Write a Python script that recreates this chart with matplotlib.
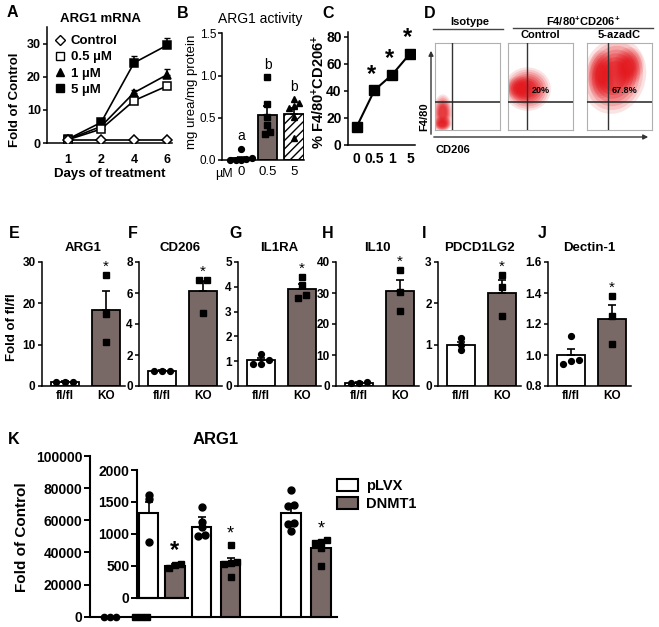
import numpy as np
import matplotlib
matplotlib.use('Agg')
import matplotlib.pyplot as plt
from matplotlib.patches import Ellipse, Patch, FancyArrowPatch
from matplotlib.lines import Line2D

W, H = 659, 627
plt.rcParams['font.family'] = ['Liberation Sans', 'DejaVu Sans']
plt.rcParams['font.weight'] = 'bold'
plt.rcParams['axes.linewidth'] = 1.1
plt.rcParams['hatch.linewidth'] = 1.0
plt.rcParams['mathtext.fontset'] = 'custom'
plt.rcParams['mathtext.rm'] = 'Liberation Sans:bold'
plt.rcParams['mathtext.bf'] = 'Liberation Sans:bold'
plt.rcParams['mathtext.it'] = 'Liberation Sans:bold'

GREY = '#786866'
RED = '#e3161c'

# ---------------- data ----------------
# A: ARG1 mRNA time course
a_days = ['1', '2', '4', '6']
a_control = [1.0, 1.0, 1.0, 1.0]
a_05 = [1.0, 4.2, 12.8, 17.2]
a_05_err = [0.2, 0.4, 0.9, 1.0]
a_1 = [1.1, 5.0, 15.2, 20.6]
a_1_err = [0.2, 0.5, 0.8, 1.8]
a_5 = [1.2, 6.2, 24.2, 29.5]
a_5_err = [0.2, 0.6, 2.0, 2.2]

# B: ARG1 activity
b_doses = ['0', '0.5', '5']
b_means = [0.02, 0.53, 0.55]
b_sems = [0.02, 0.11, 0.06]
b_pts_0 = [0.13, 0.02, 0.01, 0.0, 0.0, 0.0]
b_pts_05 = [0.98, 0.66, 0.51, 0.41, 0.33, 0.31]
b_pts_5 = [0.72, 0.67, 0.64, 0.61, 0.51, 0.26]

# C: % F4/80+CD206+
c_doses = ['0', '0.5', '1', '5']
c_vals = [13.5, 40.5, 52.0, 67.5]

# D: flow gates / clouds (axis units), percentages
d_titles = ['', 'Control', '5-azadC']
d_gate_x = [0.26, 0.29, 0.32]
d_gate_y = [0.325, 0.325, 0.325]
d_pct = ['', '20%', '67.8%']
# (cx, cy, w, h, angle) per cloud
d_clouds = [
    [(0.11, 0.07, 0.30, 0.17, 0), (0.12, 0.20, 0.30, 0.42, 0)],
    [(0.19, 0.48, 0.46, 0.28, 0), (0.30, 0.47, 0.72, 0.50, 0)],
    [(0.63, 0.72, 0.50, 0.44, 35), (0.22, 0.64, 0.42, 0.55, 0),
     (0.42, 0.62, 1.00, 0.85, 20)],
]

# E-J: fl/fl vs KO
ej_genes = ['ARG1', 'CD206', 'IL1RA', 'IL10', 'PDCD1LG2', 'Dectin-1']
ej_letters = ['E', 'F', 'G', 'H', 'I', 'J']
ej_groups = ['fl/fl', 'KO']
flfl_mean = [1.0, 1.0, 1.03, 1.0, 1.0, 1.0]
flfl_sem = [0.2, 0.05, 0.08, 0.3, 0.07, 0.04]
ko_mean = [18.3, 6.1, 3.92, 30.5, 2.26, 1.23]
ko_sem = [4.6, 0.7, 0.19, 3.8, 0.3, 0.09]
flfl_pts = [[1.0, 1.0, 1.0], [1.0, 1.0, 1.0], [1.3, 1.04, 0.9, 0.9],
            [1.2, 0.9, 0.9], [1.16, 1.0, 0.88], [1.12, 0.97, 0.94, 0.96]]
ko_pts = [[26.8, 17.5, 10.6], [6.85, 6.85, 4.7], [4.38, 4.07, 3.67, 3.54],
          [37.3, 30.3, 24.1], [2.68, 2.4, 1.69], [1.38, 1.25, 1.07]]
ej_ylim = [(0, 30), (0, 8), (0, 5), (0, 40), (0, 3), (0.8, 1.6)]
ej_yticks = [[0, 10, 20, 30], [0, 2, 4, 6, 8], [0, 1, 2, 3, 4, 5],
             [0, 10, 20, 30, 40], [0, 1, 2, 3], [0.8, 1.0, 1.2, 1.4, 1.6]]

# K: ARG1 pLVX vs DNMT1
k_main_plvx, k_main_plvx_pts = 1.0, [1.2, 0.9, 0.9]
k_main_dnmt, k_main_dnmt_pts = 1.0, [1.0, 1.0, 1.0]
k_plvx = [1330, 1113, 1323]
k_plvx_sem = [175, 157, 130]
k_dnmt = [500, 555, 774]
k_dnmt_sem = [20, 63, 65]
k_plvx_pts = [[1610, 1550, 870], [1420, 1190, 1110, 960, 980],
              [1680, 1450, 1440, 1170, 1150, 1050]]
k_dnmt_pts = [[520, 505, 470], [820, 560, 540, 520, 330],
              [900, 880, 850, 780, 500]]

# ---------------- helpers ----------------
fig = plt.figure(figsize=(W / 100, H / 100), dpi=100)


def px_axes(x0, y0, x1, y1):
    return fig.add_axes([x0 / W, 1 - y1 / H, (x1 - x0) / W, (y1 - y0) / H])


def ftext(x, y, s, **kw):
    kw.setdefault('ha', 'center')
    kw.setdefault('va', 'center')
    return fig.text(x / W, 1 - y / H, s, **kw)


def style(ax, fs=8.5, weight='bold'):
    for s in ['top', 'right']:
        ax.spines[s].set_visible(False)
    ax.tick_params(width=1.1, length=3, labelsize=fs, pad=1.5)
    for lab in ax.get_xticklabels() + ax.get_yticklabels():
        lab.set_fontweight(weight)


def swarm(vals, tol, step):
    # spread points with nearly equal values sideways
    vals = np.asarray(vals, float)
    order = np.argsort(vals)
    offs = np.zeros(len(vals))
    cluster = [order[0]]
    clusters = []
    for i in order[1:]:
        if vals[i] - vals[cluster[-1]] < tol:
            cluster.append(i)
        else:
            clusters.append(cluster)
            cluster = [i]
    clusters.append(cluster)
    for c in clusters:
        k = len(c)
        for j, idx in enumerate(c):
            offs[idx] = (j - (k - 1) / 2) * step
    return offs


def up_err(ax, x, m, e, **kw):
    ax.errorbar(x, m, yerr=[[0], [e]], fmt='none', ecolor='k', elinewidth=1.2,
                capsize=3, capthick=1.2, zorder=3, **kw)


# ---------------- A ----------------
ax = px_axes(47, 27, 172, 143)
xa = np.arange(len(a_days))
series = [(a_5, a_5_err, 's', 'k'), (a_1, a_1_err, '^', 'k'),
          (a_05, a_05_err, 's', 'w'), (a_control, None, 'D', 'w')]
for vals, err, mk, fc in series:
    ax.plot(xa, vals, color='k', lw=1.2, zorder=2)
    if err is not None:
        ax.errorbar(xa, vals, yerr=[np.zeros(4), err], fmt='none', ecolor='k',
                    elinewidth=1.1, capsize=2.5, zorder=2)
    ax.plot(xa, vals, ls='none', marker=mk, mfc=fc, mec='k', mew=1.1,
            ms=6 if mk != 'D' else 5.5, zorder=4)
ax.set_xlim(-0.64, 3.15)
ax.set_ylim(0, 35)
ax.set_yticks([0, 10, 20, 30])
ax.set_xticks(xa, a_days)
style(ax, 9)
ax.tick_params(axis='x', length=0, pad=8)
handles = [Line2D([], [], ls='none', marker='D', mfc='w', mec='k', ms=5.5),
           Line2D([], [], ls='none', marker='s', mfc='w', mec='k', ms=6),
           Line2D([], [], ls='none', marker='^', mfc='k', mec='k', ms=6),
           Line2D([], [], ls='none', marker='s', mfc='k', mec='k', ms=6)]
ax.legend(handles, ['Control', '0.5 µM', '1 µM', '5 µM'], loc='upper left',
          bbox_to_anchor=(0.0, 1.0), frameon=False, fontsize=9.5,
          handlelength=0.8, handletextpad=0.4, labelspacing=0.3,
          borderpad=0.3, borderaxespad=0.3)
ftext(12.5, 12.5, 'A', fontsize=11.5)
ftext(100, 19, 'ARG1 mRNA', fontsize=9.5)
ftext(15, 100, 'Fold of Control', fontsize=9.5, rotation=90)
ftext(110, 174, 'Days of treatment', fontsize=9.5)

# ---------------- B ----------------
ax = px_axes(222, 33.3, 304, 160)
xb = np.arange(len(b_doses))
bw = 0.75
ax.bar(0, b_means[0], bw, color='w', edgecolor='k', lw=1.3, zorder=2)
ax.bar(1, b_means[1], bw, color=GREY, edgecolor='k', lw=1.3, zorder=2)
ax.bar(2, b_means[2], bw, color='w', edgecolor='k', lw=1.3, hatch='////', zorder=2)
for i in range(3):
    up_err(ax, i, b_means[i], b_sems[i])
for i, (pts, mk) in enumerate([(b_pts_0, 'o'), (b_pts_05, 's'), (b_pts_5, '^')]):
    off = swarm(pts, 0.04, 0.2)
    ax.plot(i + off, pts, ls='none', marker=mk, color='k', ms=4.2, zorder=5,
            clip_on=False)
for i, lab in enumerate(['a', 'b', 'b']):
    top = max(b_means[i] + b_sems[i], max([b_pts_0, b_pts_05, b_pts_5][i]))
    ax.annotate(lab, (i, top), xytext=(0, 4), textcoords='offset points',
                ha='center', va='bottom', fontsize=10, fontweight='normal')
ax.set_xlim(-0.72, 2.38)
ax.set_ylim(0, 1.5)
ax.set_yticks([0, 0.5, 1.0, 1.5], ['0.0', '0.5', '1.0', '1.5'])
ax.set_xticks(xb, b_doses)
style(ax, 8.5, 'normal')
ax.tick_params(axis='y', pad=1)
ax.tick_params(axis='x', length=0, pad=4, labelsize=9.5)
ftext(224, 173.5, 'µM', fontsize=9, fontweight='normal')
ftext(183, 13, 'B', fontsize=11.5)
ftext(260, 19, 'ARG1 activity', fontsize=10, fontweight='normal')
ftext(192, 92, 'mg urea/mg protein', fontsize=9.5, fontweight='normal',
      rotation=90)

# ---------------- C ----------------
ax = px_axes(348, 31.7, 415, 145)
xc = np.arange(len(c_doses))
ax.plot(xc, c_vals, color='k', lw=1.5, marker='s', ms=6.5, mfc='k', zorder=3)
for i in range(1, 4):
    ax.annotate('*', (i, c_vals[i]), xytext=(-2, 3), textcoords='offset points',
                ha='center', va='bottom', fontsize=17)
ax.set_xlim(-0.49, 3.28)
ax.set_ylim(0, 83.7)
ax.set_yticks([0, 20, 40, 60, 80])
ax.set_xticks(xc, c_doses)
style(ax, 10)
ax.tick_params(axis='x', length=0, pad=5)
ftext(328, 13, 'C', fontsize=11.5)
ftext(319, 92, '% F4/80$^{+}$CD206$^{+}$', fontsize=10.5, rotation=90)

# ---------------- D ----------------
boxes = [(435, 43, 500, 130), (508, 43, 573, 130), (587, 43, 652, 130)]
layers = [(1.0, 0.12), (0.9, 0.14), (0.8, 0.18), (0.7, 0.22),
          (0.6, 0.26), (0.5, 0.3), (0.4, 0.35)]
for j, (x0, y0, x1, y1) in enumerate(boxes):
    ax = px_axes(x0, y0, x1, y1)
    ax.set_xlim(0, 1)
    ax.set_ylim(0, 1)
    ax.set_xticks([])
    ax.set_yticks([])
    for s in ax.spines.values():
        s.set_color('#b0b0b0')
        s.set_linewidth(0.8)
    for (cx, cy, w, h, ang) in d_clouds[j]:
        for sc, al in layers:
            ax.add_patch(Ellipse((cx, cy), w * sc, h * sc, angle=ang,
                                 facecolor=RED, edgecolor='none', alpha=al,
                                 zorder=1))
    ax.axvline(d_gate_x[j], color='#333333', lw=1.0, zorder=3)
    ax.axhline(d_gate_y[j], color='#222222', lw=1.1, zorder=3)
    if d_pct[j]:
        ax.text(d_gate_x[j] + 0.08 if j == 1 else 0.57, 0.45, d_pct[j],
                fontsize=6.5, ha='left' if j == 1 else 'center', va='center',
                zorder=4)
    if d_titles[j]:
        ftext((x0 + x1) / 2, 35, d_titles[j], fontsize=8)

ftext(430, 13, 'D', fontsize=11.5)
ftext(470, 22, 'Isotype', fontsize=8)
ftext(583, 21, 'F4/80$^{+}$CD206$^{+}$', fontsize=8)
fig.add_artist(Line2D([433 / W, 503 / W], [1 - 29 / H] * 2, color='#444444', lw=1.0))
fig.add_artist(Line2D([513 / W, 653 / W], [1 - 27.5 / H] * 2, color='#444444', lw=1.0))
fig.add_artist(FancyArrowPatch(
    (431 / W, 1 - 137 / H), (431 / W, 1 - 48 / H), transform=fig.transFigure,
    arrowstyle='-|>', mutation_scale=7, color='#333333', lw=1.0))
fig.add_artist(FancyArrowPatch(
    (431 / W, 1 - 137 / H), (651 / W, 1 - 137 / H), transform=fig.transFigure,
    arrowstyle='-|>', mutation_scale=7, color='#333333', lw=1.0))
ftext(424, 117, 'F4/80', fontsize=8, rotation=90)
ftext(453, 150, 'CD206', fontsize=8)

# ---------------- E-J ----------------
ej_spine_x = [41.7, 139, 238, 336, 438, 548]
ej_letter_x = [14, 133, 236, 328, 424, 542]
for i in range(6):
    x0 = ej_spine_x[i]
    ax = px_axes(x0, 262, x0 + 83, 386)
    lo, hi = ej_ylim[i]
    ax.bar(0, flfl_mean[i] - lo, 0.68, bottom=lo, color='w', edgecolor='k',
           lw=1.3, zorder=2)
    ax.bar(1, ko_mean[i] - lo, 0.68, bottom=lo, color=GREY, edgecolor='k',
           lw=1.3, zorder=2)
    up_err(ax, 0, flfl_mean[i], flfl_sem[i])
    up_err(ax, 1, ko_mean[i], ko_sem[i])
    tol = 0.04 * (hi - lo)
    ax.plot(0 + swarm(flfl_pts[i], tol, 0.2), flfl_pts[i], ls='none',
            marker='o', color='k', ms=4.2, zorder=5, clip_on=False)
    ax.plot(1 + swarm(ko_pts[i], tol, 0.2), ko_pts[i], ls='none',
            marker='s', color='k', ms=4.2, zorder=5, clip_on=False)
    top = max(ko_mean[i] + ko_sem[i], max(ko_pts[i]))
    ax.annotate('*', (1, top), xytext=(0, 1), textcoords='offset points',
                ha='center', va='bottom', fontsize=11, fontweight='normal')
    ax.set_xlim(-0.56, 1.46)
    ax.set_ylim(lo, hi)
    ax.set_yticks(ej_yticks[i])
    if i == 5:
        ax.set_yticklabels(['%.1f' % t for t in ej_yticks[i]])
    ax.set_xticks([0, 1], ej_groups)
    style(ax, 8.5)
    ax.tick_params(axis='x', length=0, pad=3)
    ftext(ej_letter_x[i], 233, ej_letters[i], fontsize=11.5)
    ftext(x0 + 41.5, 248.5, ej_genes[i], fontsize=9.5)
ftext(12, 327, 'Fold of fl/fl', fontsize=9.5, rotation=90)

# ---------------- K ----------------
ax = px_axes(90, 456, 337, 616.7)
k_x_main = [0.0, 1.07]
k_x_inset = [(1.33, 2.24), (3.16, 4.16), (6.24, 7.28)]
kw = 0.68
ax.set_xlim(-0.69, 7.83)
ax.set_ylim(0, 100000)
ax.bar(k_x_main[0], k_main_plvx, kw, color='w', edgecolor='k', lw=1.3)
ax.bar(k_x_main[1], k_main_dnmt, kw, color=GREY, edgecolor='k', lw=1.3)
ax.plot(k_x_main[0] + np.array([-0.22, 0, 0.22]), k_main_plvx_pts, ls='none',
        marker='o', color='k', ms=4.5, clip_on=False, zorder=5)
ax.plot(k_x_main[1] + np.array([-0.22, 0, 0.22]), k_main_dnmt_pts, ls='none',
        marker='s', color='k', ms=4.5, clip_on=False, zorder=5)
ax.set_yticks([0, 20000, 40000, 60000, 80000, 100000])
ax.set_xticks([])
style(ax, 10)
ax.tick_params(axis='y', width=1.4, length=4)
for s in ['left', 'bottom']:
    ax.spines[s].set_linewidth(1.5)

axi = px_axes(90, 470, 337, 597.7)
axi.set_xlim(ax.get_xlim())
axi.set_ylim(0, 2000)
axi.patch.set_visible(False)
for s in ['top', 'right']:
    axi.spines[s].set_visible(False)
axi.spines['left'].set_position(('data', 0.93))
axi.spines['bottom'].set_bounds(0.93, 2.69)
for s in ['left', 'bottom']:
    axi.spines[s].set_linewidth(1.5)
axi.set_xticks([])
axi.set_yticks([0, 500, 1000, 1500, 2000])
axi.tick_params(axis='y', width=1.4, length=4, labelsize=10, pad=1.5)
# main-axis baseline expressed in inset units
fig.canvas.draw()
base = axi.transData.inverted().transform(ax.transData.transform((0, 0)))[1]
for g in range(3):
    xp, xd = k_x_inset[g]
    b0 = 0 if g == 0 else base
    axi.bar(xp, k_plvx[g] - b0, kw, bottom=b0, color='w', edgecolor='k',
            lw=1.5, clip_on=False, zorder=2)
    axi.bar(xd, k_dnmt[g] - b0, kw, bottom=b0, color=GREY, edgecolor='k',
            lw=1.5, clip_on=False, zorder=2)
    up_err(axi, xp, k_plvx[g], k_plvx_sem[g], clip_on=False)
    up_err(axi, xd, k_dnmt[g], k_dnmt_sem[g], clip_on=False)
    axi.plot(xp + swarm(k_plvx_pts[g], 60, 0.22), k_plvx_pts[g], ls='none',
             marker='o', color='k', ms=5, zorder=5, clip_on=False)
    axi.plot(xd + swarm(k_dnmt_pts[g], 60, 0.22), k_dnmt_pts[g], ls='none',
             marker='s', color='k', ms=5, zorder=5, clip_on=False)
    top = max(k_dnmt[g] + k_dnmt_sem[g], max(k_dnmt_pts[g]))
    axi.annotate('*', (xd, top), xytext=(0, 2), textcoords='offset points',
                 ha='center', va='bottom', fontsize=17 if g == 0 else 13,
                 fontweight='normal' if g else 'bold')

leg = [Patch(facecolor='w', edgecolor='k', lw=1.5, label='pLVX'),
       Patch(facecolor=GREY, edgecolor='k', lw=1.5, label='DNMT1')]
fig.legend(handles=leg, loc='upper left', bbox_to_anchor=(330 / W, 1 - 472 / H),
           frameon=False, fontsize=10.5, handlelength=1.4, handleheight=0.9,
           handletextpad=0.6, labelspacing=0.25, borderpad=0)
ftext(14, 440, 'K', fontsize=11.5)
ftext(215.5, 440, 'ARG1', fontsize=12)
ftext(22, 537, 'Fold of Control', fontsize=11, rotation=90)

fig.savefig('out.png', dpi=100)
